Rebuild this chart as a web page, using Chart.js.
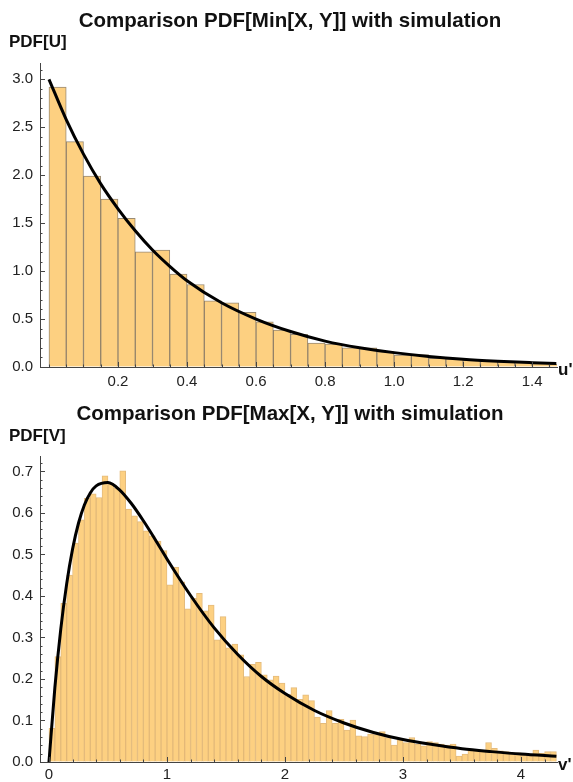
<!DOCTYPE html>
<html>
<head>
<meta charset="utf-8">
<script src="https://cdn.jsdelivr.net/npm/chart.js@4.4.1/dist/chart.umd.min.js"></script>
<style>
  html, body { margin: 0; padding: 0; background: #fff; }
  #wrap { position: relative; width: 573px; height: 782px; }
  canvas { position: absolute; left: 0; }
  #min-chart { top: 0; }
  #max-chart { top: 391px; }
</style>
</head>
<body>
<div id="wrap">
  <canvas id="min-chart" width="573" height="391"></canvas>
  <canvas id="max-chart" width="573" height="391"></canvas>
</div>
<script>
// Min[X, Y]: histogram of the simulation, bins of 0.05 starting at 0
const U_BIN_WIDTH = 0.05;
const U_HIST = [2.92, 2.35, 1.99, 1.75, 1.55, 1.20, 1.22, 0.97, 0.86, 0.69,
  0.67, 0.57, 0.47, 0.385, 0.34, 0.25, 0.24, 0.20, 0.20, 0.16,
  0.125, 0.13, 0.09, 0.085, 0.07, 0.06, 0.055, 0.05, 0.04, 0.03];
// theoretical PDF[U]
const U_CURVE_X = [0, 0.05, 0.1, 0.15, 0.2, 0.25, 0.3, 0.35, 0.4, 0.5, 0.6, 0.7, 0.8, 0.9, 1.0, 1.1, 1.2, 1.3, 1.4, 1.47];
const U_CURVE_Y = [3.0, 2.58, 2.22, 1.91, 1.65, 1.42, 1.22, 1.05, 0.90, 0.67, 0.50, 0.37, 0.27, 0.20, 0.15, 0.11, 0.08, 0.06, 0.045, 0.036];
const U_X_TICKS = [0.2, 0.4, 0.6, 0.8, 1.0, 1.2, 1.4];
const U_Y_TICKS = [0, 0.5, 1.0, 1.5, 2.0, 2.5, 3.0];

// Max[X, Y]: histogram of the simulation, bins of 0.05 starting at 0
const V_BIN_WIDTH = 0.05;
const V_HIST = [0.081, 0.254, 0.382, 0.45, 0.527, 0.583, 0.635, 0.646, 0.637, 0.689,
  0.671, 0.66, 0.701, 0.609, 0.593, 0.579, 0.557, 0.545, 0.532, 0.509,
  0.427, 0.469, 0.434, 0.369, 0.394, 0.406, 0.364, 0.378, 0.294, 0.35,
  0.275, 0.284, 0.258, 0.206, 0.235, 0.24, 0.21, 0.198, 0.207, 0.19,
  0.163, 0.179, 0.151, 0.162, 0.148, 0.108, 0.093, 0.124, 0.093, 0.103,
  0.077, 0.101, 0.063, 0.061, 0.067, 0.066, 0.073, 0.059, 0.041, 0.053,
  0.047, 0.059, 0.043, 0.039, 0.049, 0.047, 0.043, 0.041, 0.043, 0.014,
  0.019, 0.027, 0.027, 0.029, 0.047, 0.033, 0.027, 0.025, 0.022, 0.022,
  0.017, 0.014, 0.029, 0.021, 0.025, 0.025];
// theoretical PDF[V]
const V_CURVE_X = [0, 0.05, 0.1, 0.15, 0.2, 0.25, 0.3, 0.35, 0.4, 0.5, 0.6, 0.7, 0.8, 0.9, 1.0,
  1.2, 1.4, 1.6, 1.8, 2.0, 2.25, 2.5, 2.75, 3.0, 3.25, 3.5, 3.75, 4.0, 4.3];
const V_CURVE_Y = [0, 0.179, 0.320, 0.429, 0.513, 0.575, 0.619, 0.648, 0.665, 0.673, 0.655, 0.622, 0.581, 0.536, 0.489,
  0.401, 0.323, 0.259, 0.206, 0.165, 0.124, 0.094, 0.071, 0.054, 0.042, 0.032, 0.025, 0.019, 0.014];
const V_X_TICKS = [0, 1, 2, 3, 4];
const V_Y_TICKS = [0, 0.1, 0.2, 0.3, 0.4, 0.5, 0.6, 0.7];

const FONT = "'Liberation Sans', Arial, sans-serif";
const BAR_FILL = "#fdd081";

function histPoints(values, width) {
  return values.map((y, i) => ({ x: i * width + width / 2, y }));
}

function curvePoints(xs, ys) {
  return xs.map((x, i) => ({ x, y: ys[i] }));
}

function minorTicks(min, max, step) {
  const out = [];
  for (let v = Math.ceil(min / step) * step; v <= max + 1e-9; v += step) out.push(v);
  return out;
}

// inward Mathematica style ticks plus the title / axis labels
const decorPlugin = {
  id: "decor",
  afterDraw(chart, _args, opts) {
    const { ctx, chartArea, scales } = chart;
    const xs = scales.x;
    const ys = scales.y;
    ctx.save();
    ctx.strokeStyle = "#444";
    ctx.lineWidth = 1;
    const drawX = (vals, len) => {
      vals.forEach((v) => {
        const px = Math.round(xs.getPixelForValue(v)) + 0.5;
        if (px < chartArea.left || px > chartArea.right) return;
        ctx.beginPath();
        ctx.moveTo(px, chartArea.bottom);
        ctx.lineTo(px, chartArea.bottom - len);
        ctx.stroke();
      });
    };
    const drawY = (vals, len) => {
      vals.forEach((v) => {
        const py = Math.round(ys.getPixelForValue(v)) + 0.5;
        if (py < chartArea.top || py > chartArea.bottom) return;
        ctx.beginPath();
        ctx.moveTo(chartArea.left, py);
        ctx.lineTo(chartArea.left + len, py);
        ctx.stroke();
      });
    };
    drawX(minorTicks(xs.min, xs.max, opts.xMinor), 2.5);
    drawX(opts.xMajor, 5);
    drawY(minorTicks(ys.min, ys.max, opts.yMinor), 2.5);
    drawY(opts.yMajor, 5);

    ctx.fillStyle = "#111";
    ctx.textBaseline = "middle";
    ctx.font = `bold 20.5px ${FONT}`;
    ctx.textAlign = "center";
    ctx.fillText(opts.title, opts.titleX, opts.titleY);
    ctx.font = `bold 17px ${FONT}`;
    ctx.textAlign = "left";
    ctx.fillText(opts.yLabel, 9, opts.yLabelY);
    ctx.fillText(opts.xLabel, chartArea.right + 1, chartArea.bottom + 3);
    ctx.restore();
  }
};

function makeChart(canvas, cfg) {
  return new Chart(canvas, {
    type: "bar",
    data: {
      datasets: [
        {
          type: "line",
          data: cfg.curve,
          borderColor: "#000",
          borderWidth: 3,
          pointRadius: 0,
          cubicInterpolationMode: "monotone",
          order: 0
        },
        {
          data: cfg.hist,
          backgroundColor: BAR_FILL,
          borderColor: cfg.edge,
          borderWidth: 1,
          borderSkipped: "bottom",
          barPercentage: 1,
          categoryPercentage: 1,
          order: 1
        }
      ]
    },
    options: {
      responsive: false,
      animation: false,
      events: [],
      layout: { padding: { top: cfg.top, right: 16, left: 0, bottom: 0 } },
      scales: {
        x: {
          type: "linear",
          min: cfg.xMin,
          max: cfg.xMax,
          offset: false,
          afterFit: (s) => { s.height = cfg.xAxisHeight; },
          afterBuildTicks: (s) => { s.ticks = cfg.xTicks.map((value) => ({ value })); },
          grid: { drawOnChartArea: false, drawTicks: false },
          border: { display: true, color: "#444", width: 1 },
          ticks: {
            padding: cfg.xPad,
            maxRotation: 0,
            autoSkip: false,
            color: "#222",
            font: { family: FONT, size: 15 },
            callback: (v) => cfg.xFmt(v)
          }
        },
        y: {
          min: 0,
          max: cfg.yMax,
          afterFit: (s) => { s.width = 40; },
          afterBuildTicks: (s) => { s.ticks = cfg.yTicks.map((value) => ({ value })); },
          grid: { drawOnChartArea: false, drawTicks: false },
          border: { display: true, color: "#444", width: 1 },
          ticks: {
            padding: 7,
            color: "#222",
            font: { family: FONT, size: 15 },
            callback: (v) => v.toFixed(1)
          }
        }
      },
      plugins: {
        legend: { display: false },
        tooltip: { enabled: false },
        decor: cfg.decor
      }
    },
    plugins: [decorPlugin]
  });
}

makeChart(document.getElementById("min-chart"), {
  hist: histPoints(U_HIST, U_BIN_WIDTH),
  curve: curvePoints(U_CURVE_X, U_CURVE_Y),
  edge: "rgba(120,100,70,0.75)",
  top: 63,
  xAxisHeight: 24,
  xPad: 6,
  xMin: -0.026,
  xMax: 1.472,
  yMax: 3.17,
  xTicks: U_X_TICKS,
  yTicks: U_Y_TICKS,
  xFmt: (v) => v.toFixed(1),
  decor: {
    title: "Comparison PDF[Min[X, Y]] with simulation",
    titleX: 290, titleY: 21,
    yLabel: "PDF[U]", yLabelY: 42,
    xLabel: "u'",
    xMinor: 0.05, xMajor: U_X_TICKS,
    yMinor: 0.1, yMajor: U_Y_TICKS
  }
});

makeChart(document.getElementById("max-chart"), {
  hist: histPoints(V_HIST, V_BIN_WIDTH),
  curve: curvePoints(V_CURVE_X, V_CURVE_Y),
  edge: "rgba(225,180,110,0.9)",
  top: 65,
  xAxisHeight: 20,
  xPad: 4,
  xMin: -0.076,
  xMax: 4.305,
  yMax: 0.737,
  xTicks: V_X_TICKS,
  yTicks: V_Y_TICKS,
  xFmt: (v) => String(v),
  decor: {
    title: "Comparison PDF[Max[X, Y]] with simulation",
    titleX: 290, titleY: 23,
    yLabel: "PDF[V]", yLabelY: 45,
    xLabel: "v'",
    xMinor: 0.2, xMajor: V_X_TICKS,
    yMinor: 0.02, yMajor: V_Y_TICKS
  }
});
</script>
</body>
</html>
